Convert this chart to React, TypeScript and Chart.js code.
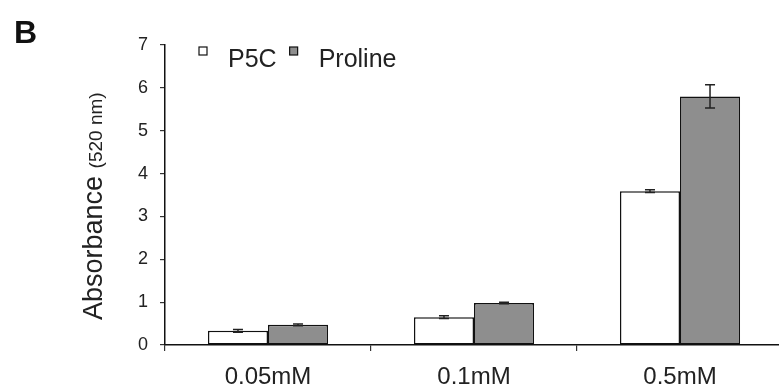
import React, { useEffect, useRef } from "react";
import { Chart, registerables } from "chart.js";

Chart.register(...registerables);

const categories = ["0.05mM", "0.1mM", "0.5mM"];
const p5cValues = [0.33, 0.65, 3.59];
const prolineValues = [0.47, 0.98, 5.8];
const p5cErrors = [0.03, 0.03, 0.03];
const prolineErrors = [0.02, 0.02, 0.27];
const yTicks = [0, 1, 2, 3, 4, 5, 6, 7];
const seriesLabels = ["P5C", "Proline"];
const seriesColors = ["#ffffff", "#8e8e8e"];

const FONT = "'Liberation Sans', Arial, Helvetica, sans-serif";

const errorBarPlugin = {
  id: "errorBars",
  afterDatasetsDraw(chart: any) {
    const ctx = chart.ctx;
    const y = chart.scales.y;
    const errs = [p5cErrors, prolineErrors];
    chart.data.datasets.forEach((ds: any, i: number) => {
      const meta = chart.getDatasetMeta(i);
      meta.data.forEach((bar: any, j: number) => {
        const v = ds.data[j];
        const e = errs[i][j];
        const x = bar.x;
        const yt = y.getPixelForValue(v + e);
        const yb = y.getPixelForValue(v - e);
        ctx.save();
        ctx.strokeStyle = "#222";
        ctx.lineWidth = 1.5;
        ctx.beginPath();
        ctx.moveTo(x, yt);
        ctx.lineTo(x, yb);
        ctx.moveTo(x - 5, yt);
        ctx.lineTo(x + 5, yt);
        ctx.moveTo(x - 5, yb);
        ctx.lineTo(x + 5, yb);
        ctx.stroke();
        ctx.restore();
      });
    });
  },
};

const decorPlugin = {
  id: "decor",
  afterDraw(chart: any) {
    const ctx = chart.ctx;
    const area = chart.chartArea;
    ctx.save();
    // Panel letter
    ctx.fillStyle = "#111";
    ctx.font = `bold 32px ${FONT}`;
    ctx.textAlign = "left";
    ctx.textBaseline = "alphabetic";
    ctx.fillText("B", 14, 43);

    // Legend
    ctx.font = `25px ${FONT}`;
    let x = area.left + 34;
    const boxTop = area.top + 2;
    const baseline = area.top + 22;
    chart.data.datasets.forEach((ds: any) => {
      ctx.fillStyle = ds.backgroundColor;
      ctx.fillRect(x, boxTop, 8, 8);
      ctx.strokeStyle = "#111";
      ctx.lineWidth = 1.2;
      ctx.strokeRect(x, boxTop, 8, 8);
      x += 29;
      ctx.fillStyle = "#222";
      ctx.fillText(ds.label, x, baseline);
      x += ctx.measureText(ds.label).width + 13;
    });

    // Y axis title
    ctx.translate(102, 320);
    ctx.rotate(-Math.PI / 2);
    ctx.fillStyle = "#222";
    ctx.font = `27px ${FONT}`;
    ctx.fillText("Absorbance", 0, 0);
    const w = ctx.measureText("Absorbance ").width;
    ctx.font = `19px ${FONT}`;
    ctx.fillText("(520 nm)", w, 0);
    ctx.restore();
  },
};

export default function App() {
  const ref = useRef<HTMLCanvasElement>(null);
  useEffect(() => {
    if (!ref.current) return;
    const chart = new Chart(ref.current, {
      type: "bar",
      data: {
        labels: categories,
        datasets: [
          {
            label: seriesLabels[0],
            data: p5cValues,
            backgroundColor: seriesColors[0],
            borderColor: "#111",
            borderWidth: 1.5,
            borderSkipped: false,
          },
          {
            label: seriesLabels[1],
            data: prolineValues,
            backgroundColor: seriesColors[1],
            borderColor: "#111",
            borderWidth: 1.5,
            borderSkipped: false,
          },
        ],
      },
      options: {
        responsive: false,
        animation: false,
        devicePixelRatio: 1,
        layout: { padding: { top: 45, right: 7, bottom: 0, left: 0 } },
        datasets: { bar: { categoryPercentage: 0.583, barPercentage: 1 } },
        plugins: {
          legend: { display: false },
          tooltip: { enabled: false },
        },
        scales: {
          x: {
            afterFit: (s: any) => {
              s.height = 46;
            },
            grid: {
              display: true,
              drawOnChartArea: false,
              drawTicks: true,
              tickLength: 6,
              color: "#333",
              lineWidth: 1.2,
            },
            border: { display: true, color: "#111", width: 1.5 },
            ticks: {
              color: "#222",
              padding: 12,
              font: { family: FONT, size: 24 },
              maxRotation: 0,
            },
          },
          y: {
            min: 0,
            max: 7,
            afterFit: (s: any) => {
              s.width = 165;
            },
            afterBuildTicks: (s: any) => {
              s.ticks = yTicks.map((v) => ({ value: v }));
            },
            grid: {
              display: true,
              drawOnChartArea: false,
              drawTicks: true,
              tickLength: 5,
              color: "#333",
              lineWidth: 1.2,
            },
            border: { display: true, color: "#111", width: 1.5 },
            ticks: {
              color: "#222",
              padding: 12,
              font: { family: FONT, size: 18 },
            },
          },
        },
      },
      plugins: [errorBarPlugin, decorPlugin],
    });
    return () => chart.destroy();
  }, []);

  return (
    <div
      style={{
        position: "fixed",
        left: 0,
        top: 0,
        width: 779,
        height: 391,
        overflow: "hidden",
        background: "#fff",
      }}
    >
      <canvas
        ref={ref}
        width={790}
        height={391}
        style={{ width: 790, height: 391, display: "block" }}
      />
    </div>
  );
}
